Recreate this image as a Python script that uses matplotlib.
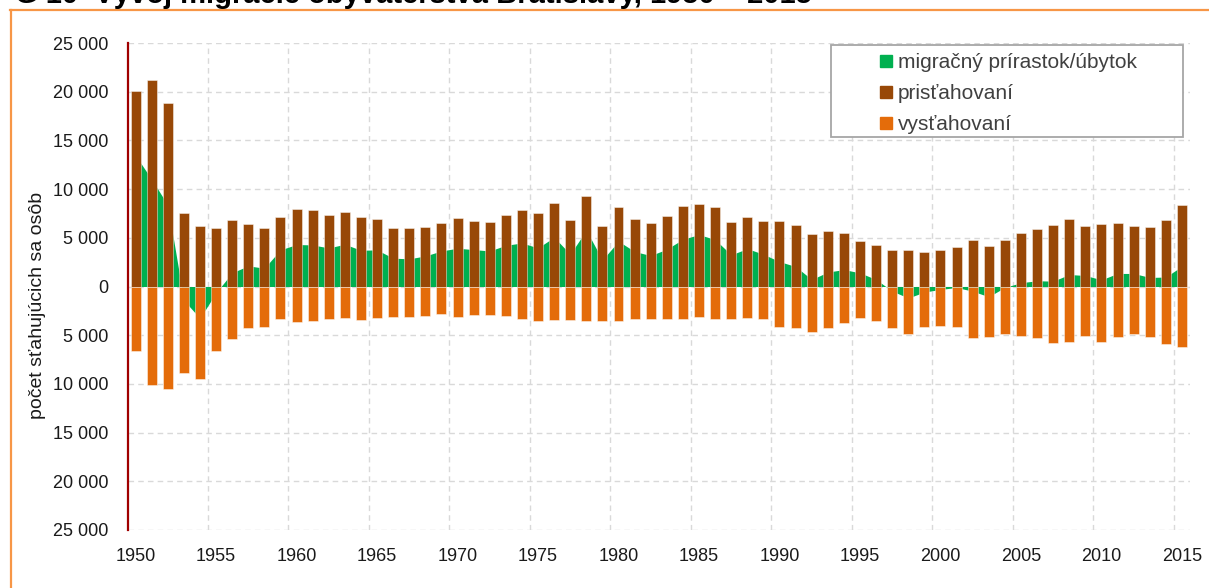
import matplotlib
matplotlib.use("Agg")
import matplotlib.pyplot as plt
from matplotlib.lines import Line2D
from matplotlib.patches import Rectangle
from matplotlib.ticker import FuncFormatter

years = list(range(1950, 2016))

# prisťahovaní (immigrants)
immigrants = [
    20100, 21150, 18860, 7500, 6210, 6000, 6790, 6380, 6000, 7130,
    7950, 7810, 7300, 7610, 7160, 6960, 6040, 5970, 6140, 6480,
    7060, 6750, 6580, 7300, 7810, 7500, 8530, 6790, 9280, 6240,
    8190, 6960, 6550, 7200, 8220, 8460, 8190, 6620, 7090, 6680,
    6680, 6340, 5390, 5700, 5490, 4640, 4230, 3750, 3720, 3550,
    3750, 4060, 4770, 4130, 4810, 5460, 5900, 6340, 6920, 6170,
    6380, 6480, 6210, 6140, 6860, 8320,
]

# vysťahovaní (emigrants)
emigrants = [
    6640, 10150, 10490, 8920, 9470, 6640, 5380, 4260, 4120, 3370,
    3640, 3540, 3340, 3270, 3440, 3200, 3130, 3130, 3000, 2830,
    3130, 2960, 2930, 3070, 3340, 3540, 3470, 3470, 3510, 3510,
    3540, 3370, 3370, 3370, 3370, 3130, 3370, 3370, 3200, 3370,
    4120, 4290, 4670, 4220, 3750, 3240, 3510, 4220, 4900, 4120,
    4050, 4160, 5250, 5180, 4900, 5070, 5310, 5790, 5690, 5040,
    5690, 5140, 4870, 5210, 5890, 6230,
]

# migračný prírastok/úbytok (net migration)
net = [
    13460, 11000, 8370, -1420, -3260, -640, 1410, 2120, 1880, 3760,
    4310, 4270, 3960, 4340, 3720, 3760, 2910, 2840, 3140, 3650,
    3930, 3790, 3650, 4230, 4470, 3960, 5060, 3320, 5770, 2730,
    4650, 3590, 3180, 3830, 4850, 5330, 4820, 3250, 3890, 3310,
    2560, 2050, 720, 1480, 1740, 1400, 720, -470, -1180, -570,
    -300, -100, -480, -1050, -90, 390, 590, 550, 1230, 1130,
    690, 1340, 1340, 930, 970, 2090,
]

labels = ["migračný prírastok/úbytok", "prisťahovaní", "vysťahovaní"]
title = "G 10  Vývoj migrácie obyvateľstva Bratislavy, 1950 – 2015"
ylabel = "počet sťahujúcich sa osôb"

C_NET = "#00B050"
C_IMM = "#984807"
C_EMI = "#E46C0A"

W, H = 1209, 588
fig = plt.figure(figsize=(W / 100, H / 100), dpi=100)
ax = fig.add_axes([127.5 / W, 1 - 530 / H, (1190 - 127.5) / W, (530 - 43) / H])

regular = ["Liberation Sans", "DejaVu Sans"]

ax.fill_between(years, net, 0, color=C_NET, linewidth=0, zorder=1)
edge = (1, 1, 1, 0.45)
ax.bar(years, immigrants, width=0.62, color=C_IMM, edgecolor=edge, linewidth=0.7, zorder=2)
ax.bar(years, [-v for v in emigrants], width=0.62, color=C_EMI, edgecolor=edge, linewidth=0.7, zorder=2)

ax.set_xlim(1949.5, 2015.5)
ax.set_ylim(-25000, 25000)
ax.set_yticks(range(-25000, 25001, 5000))
ax.yaxis.set_major_formatter(FuncFormatter(lambda v, p: f"{abs(int(v)):,}".replace(",", " ")))
ax.set_xticks(range(1950, 2016, 5))
ax.set_xticks([y + 0.5 for y in range(1954, 2015, 5)], minor=True)

ax.set_axisbelow(True)
grid_kw = dict(color="#D9D9D9", linewidth=1.0, linestyle=(0, (4, 3)))
ax.yaxis.grid(True, which="major", **grid_kw)
ax.xaxis.grid(True, which="minor", **grid_kw)
ax.xaxis.grid(False, which="major")

for s in ["top", "right", "bottom"]:
    ax.spines[s].set_visible(False)
ax.spines["left"].set_color("#A00000")
ax.spines["left"].set_linewidth(1.6)
ax.spines["left"].set_zorder(5)

ax.tick_params(axis="both", which="both", length=0)
ax.tick_params(axis="y", pad=14)
ax.tick_params(axis="x", pad=13)
for t in ax.get_xticklabels() + ax.get_yticklabels():
    t.set_fontfamily(regular)
    t.set_fontsize(13)
    t.set_color("#1A1A1A")

fig.text(38 / W, 1 - 305 / H, ylabel, rotation=90, ha="center", va="center",
         fontsize=14, family=regular, color="#1A1A1A")

# legend frame
fig.add_artist(Rectangle((831 / W, 1 - 137 / H), 352 / W, 92 / H, transform=fig.transFigure,
                         facecolor="white", edgecolor="#A6A6A6", linewidth=1.3, zorder=6))
handles = [Line2D([], [], marker="s", linestyle="none", markersize=8.2, color=c)
           for c in (C_NET, C_IMM, C_EMI)]
leg = fig.legend(handles, labels, loc="upper left", bbox_to_anchor=(876 / W, 1 - 49 / H),
                 frameon=False, prop={"family": regular, "size": 15},
                 handlelength=0.6, handletextpad=0.25, labelspacing=0.58, borderpad=0.2,
                 borderaxespad=0)
leg.set_zorder(7)
for t in leg.get_texts():
    t.set_color("#404040")

# orange frame and clipped title
fig.add_artist(Line2D([10 / W, 1], [1 - 10 / H, 1 - 10 / H], transform=fig.transFigure,
                      color="#F79646", linewidth=1.6))
fig.add_artist(Line2D([11 / W, 11 / W], [1 - 10 / H, 0], transform=fig.transFigure,
                      color="#F79646", linewidth=1.6))
fig.text(15 / W, 1 - 3 / H, title, ha="left", va="baseline", fontsize=21,
         fontweight="bold", family=regular, color="black")

fig.savefig("out.png", dpi=100)
